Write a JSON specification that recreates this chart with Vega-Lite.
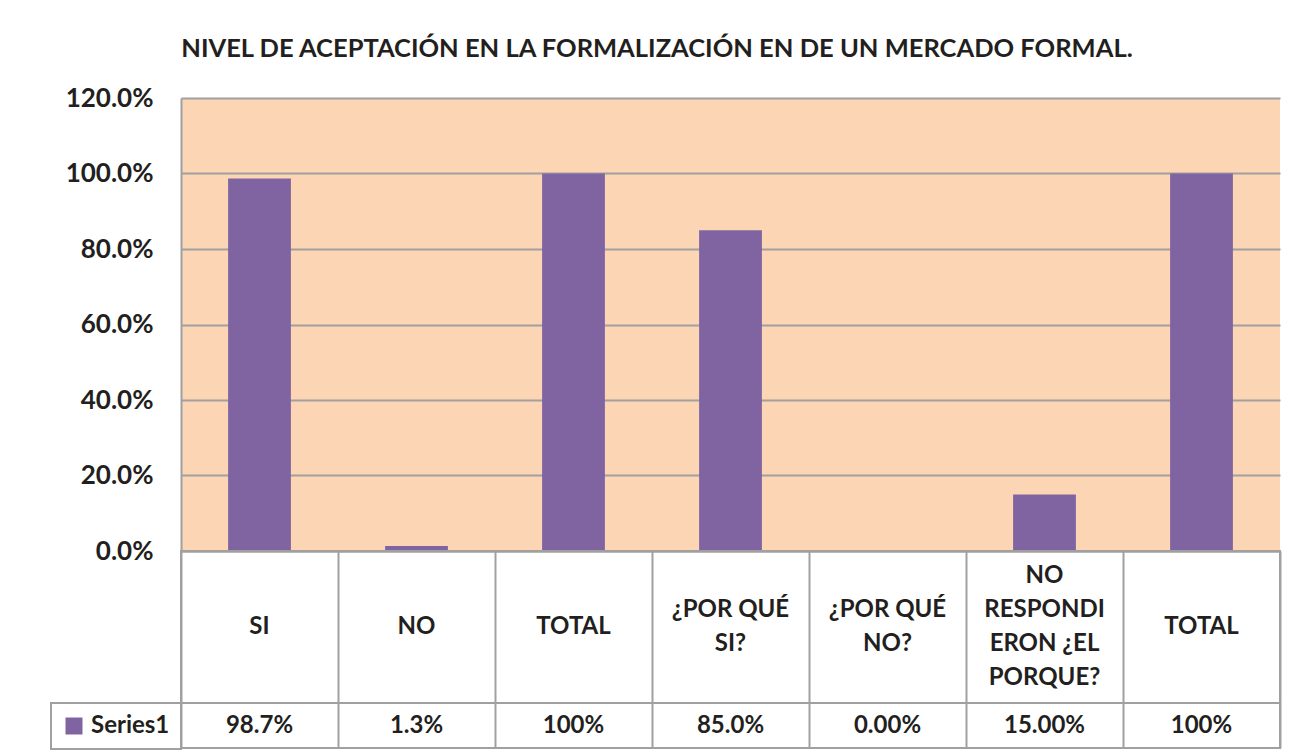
{
  "$schema": "https://vega.github.io/schema/vega-lite/v6.json",
  "padding": {"left": 49, "top": 36, "right": 34, "bottom": 8},
  "background": "white",
  "bounds": "flush",
  "spacing": 0,
  "resolve": {"legend": {"color": "independent"}},
  "title": {
    "text": "NIVEL DE ACEPTACIÓN EN LA FORMALIZACIÓN  EN  DE UN MERCADO FORMAL.",
    "font": "Lato", "fontSize": 25.5, "fontWeight": "bold", "color": "#231F20",
    "anchor": "middle", "offset": 23, "dx": -8
  },
  "data": {
    "values": [
      {"id": "1", "label": "SI", "value": 0.987, "display": "98.7%", "series": "Series1"},
      {"id": "2", "label": "NO", "value": 0.013, "display": "1.3%", "series": "Series1"},
      {"id": "3", "label": "TOTAL", "value": 1.0, "display": "100%", "series": "Series1"},
      {"id": "4", "label": "¿POR QUÉ\nSI?", "value": 0.85, "display": "85.0%", "series": "Series1"},
      {"id": "5", "label": "¿POR QUÉ\nNO?", "value": 0.0, "display": "0.00%", "series": "Series1"},
      {"id": "6", "label": "NO\nRESPONDI\nERON ¿EL\nPORQUE?", "value": 0.15, "display": "15.00%", "series": "Series1"},
      {"id": "7", "label": "TOTAL", "value": 1.0, "display": "100%", "series": "Series1"}
    ]
  },
  "vconcat": [
    {
      "width": 1099, "height": 453,
      "view": {"fill": "#FCD5B5", "stroke": null},
      "mark": {"type": "bar", "color": "#8064A2"},
      "encoding": {
        "x": {"field": "id", "type": "ordinal",
          "scale": {"paddingInner": 0.6, "paddingOuter": 0.3},
          "axis": {"labels": false, "ticks": false, "title": null, "domainColor": "#A0A0A0", "domainWidth": 2}},
        "y": {"field": "value", "type": "quantitative",
          "scale": {"domain": [0, 1.2]},
          "axis": {"values": [0, 0.2, 0.4, 0.6, 0.8, 1.0, 1.2], "format": ".1%", "title": null,
            "ticks": false, "labelPadding": 28, "grid": true, "gridColor": "#A0A0A0", "gridWidth": 2,
            "domainColor": "#A0A0A0", "domainWidth": 2, "labelFont": "Lato", "labelFontSize": 26,
            "labelFontWeight": "bold", "labelColor": "#231F20"}}
      }
    },
    {
      "width": 1099, "height": 152,
      "view": {"stroke": "#A0A0A0", "strokeWidth": 2, "fill": null},
      "encoding": {
        "x": {"field": "id", "type": "ordinal",
          "scale": {"paddingInner": 0, "paddingOuter": 0},
          "axis": {"labels": false, "ticks": false, "domain": false, "title": null, "grid": true,
            "tickBand": "extent", "gridColor": "#A0A0A0", "gridWidth": 2}},
        "text": {"field": "label"}
      },
      "layer": [
        {
          "transform": [{"filter": {"field": "id", "oneOf": ["1", "2", "3", "7"]}}],
          "mark": {"type": "text", "font": "Lato", "fontSize": 24, "fontWeight": "bold", "color": "#231F20",
            "lineBreak": "\n", "lineHeight": 34, "baseline": "middle", "align": "center"}
        },
        {
          "transform": [{"filter": {"field": "id", "oneOf": ["4", "5"]}}],
          "mark": {"type": "text", "font": "Lato", "fontSize": 24, "fontWeight": "bold", "color": "#231F20",
            "lineBreak": "\n", "lineHeight": 34, "baseline": "middle", "align": "center", "dy": -17}
        },
        {
          "transform": [{"filter": {"field": "id", "equal": "6"}}],
          "mark": {"type": "text", "font": "Lato", "fontSize": 24, "fontWeight": "bold", "color": "#231F20",
            "lineBreak": "\n", "lineHeight": 34, "baseline": "middle", "align": "center", "dy": -51}
        }
      ]
    },
    {
      "width": 1099, "height": 45,
      "view": {"stroke": "#A0A0A0", "strokeWidth": 2, "fill": null},
      "encoding": {
        "x": {"field": "id", "type": "ordinal",
          "scale": {"paddingInner": 0, "paddingOuter": 0},
          "axis": {"labels": false, "ticks": false, "domain": false, "title": null, "grid": true,
            "tickBand": "extent", "gridColor": "#A0A0A0", "gridWidth": 2}}
      },
      "layer": [
        {
          "mark": {"type": "text", "font": "Lato", "fontSize": 24, "fontWeight": "bold", "color": "#231F20",
            "baseline": "middle", "align": "center"},
          "encoding": {"text": {"field": "display"}}
        },
        {
          "mark": {"type": "point", "opacity": 0, "filled": true, "shape": "square"},
          "encoding": {
            "color": {"field": "series", "type": "nominal", "scale": {"range": ["#8064A2"]},
              "legend": {"orient": "left", "title": null, "offset": 0, "padding": 11,
                "strokeColor": "#A0A0A0", "symbolType": "square", "symbolSize": 289,
                "symbolOpacity": 1, "symbolStrokeWidth": 0, "labelOffset": 5,
                "labelFont": "Lato", "labelFontSize": 24, "labelFontWeight": "bold", "labelColor": "#231F20"}}
          }
        }
      ]
    }
  ],
  "config": {
    "legend": {"strokeWidth": 2}
  }
}
